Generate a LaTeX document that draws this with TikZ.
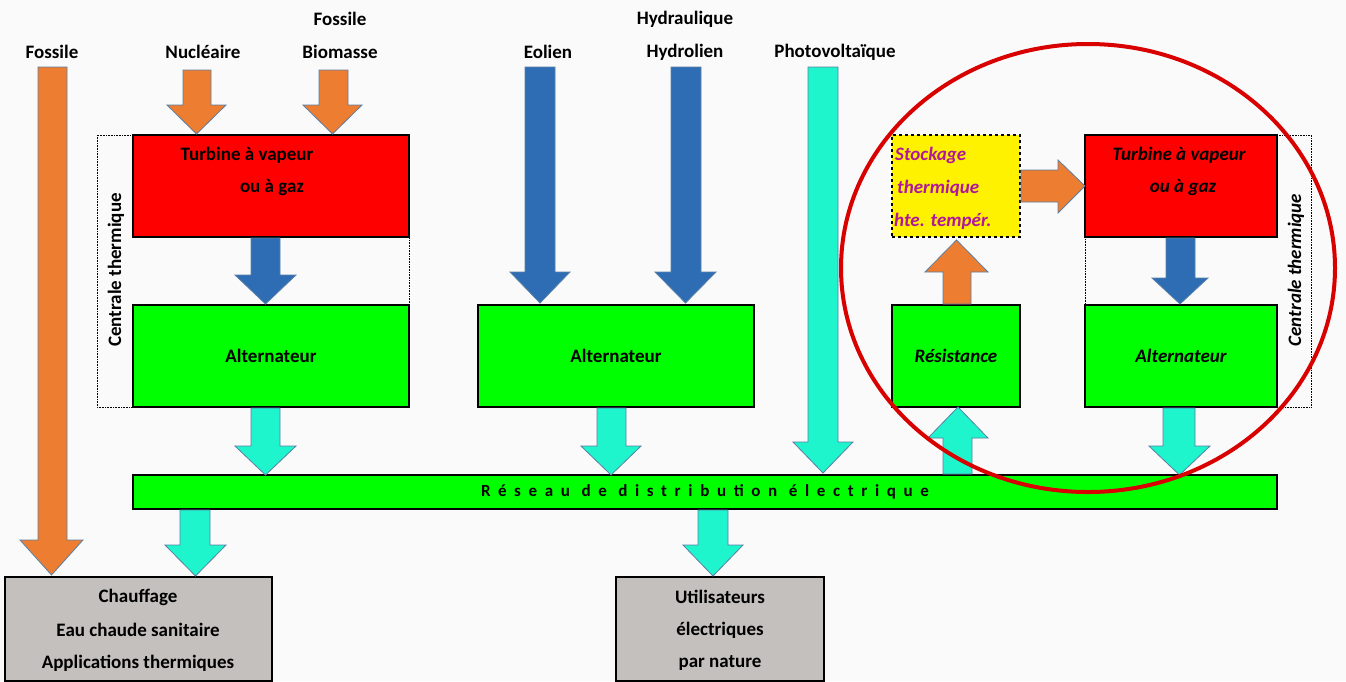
\documentclass[tikz,border=0pt]{standalone}
\usepackage{fontspec}
\setmainfont{Carlito}
\definecolor{bg}{HTML}{FAFAFA}
\definecolor{org}{HTML}{ED7D31}
\definecolor{blu}{HTML}{2E6DB4}
\definecolor{cya}{HTML}{1FF5CC}
\definecolor{edg}{HTML}{5A7FA6}
\definecolor{gry}{HTML}{C3C0BD}
\definecolor{mag}{HTML}{B0179C}
\newcommand{\blk}[8]{\fill[#8,draw=edg,line width=0.8pt] (#1,#5)--(#2,#5)--(#2,#6)--(#4,#6)--({(#3+#4)/2},#7)--(#3,#6)--(#1,#6)--cycle;}
\begin{document}
\begin{tikzpicture}[x=1pt,y=-1pt,font=\bfseries\fontsize{19}{22}\selectfont,
 box/.style={draw=black,line width=2pt,inner sep=0pt,align=center},
 lbl/.style={inner sep=0pt,anchor=center}]
\fill[bg] (0,0) rectangle (1346,681);
\useasboundingbox (0,0) rectangle (1346,681);
% dotted frames
\draw[densely dotted,line width=0.6pt] (97,135) rectangle (409,407);
\draw[densely dotted,line width=0.6pt] (1085,135) rectangle (1311,407);
% labels
\node[lbl] (lf) at (52,52) {Fossile};
\node[lbl] (ln) at (203,52) {Nucléaire};
\node[lbl] (lf2) at (340,19) {Fossile};
\node[lbl] (lb) at (340,52) {Biomasse};
\node[lbl] (le) at (548,52) {Eolien};
\node[lbl] (lh1) at (685,19) {Hydraulique};
\node[lbl] (lh2) at (685,52) {Hydrolien};
\node[lbl] (lp) at (835,52) {Photovoltaïque};
% boxes
\node[box,fill=red,minimum width=276,minimum height=102] (t1) at (271,186) {};
\node[lbl] at (247,155) {Turbine à vapeur};
\node[lbl] at (272,188) {ou à gaz};
\node[box,fill=green,minimum width=276,minimum height=102] (a1) at (271,356) {Alternateur};
\node[box,fill=green,minimum width=276,minimum height=102] (a2) at (616,356) {Alternateur};
\node[box,fill=yellow,dashed,line width=1.4pt,minimum width=128,minimum height=102] (st) at (956,186) {};
\node[lbl,anchor=west,text=mag,font=\bfseries\itshape\fontsize{19}{22}\selectfont] at (895,155) {Stockage};
\node[lbl,anchor=west,text=mag,font=\bfseries\itshape\fontsize{19}{22}\selectfont] at (897,188) {thermique};
\node[lbl,anchor=west,text=mag,font=\bfseries\itshape\fontsize{19}{22}\selectfont] at (894,221) {hte. tempér.};
\node[box,fill=red,minimum width=192,minimum height=102,font=\bfseries\itshape\fontsize{19}{22}\selectfont] (t2) at (1181,186) {};
\node[lbl,font=\bfseries\itshape\fontsize{19}{22}\selectfont] at (1179,155) {Turbine à vapeur};
\node[lbl,font=\bfseries\itshape\fontsize{19}{22}\selectfont] at (1183,188) {ou à gaz};
\node[box,fill=green,minimum width=128,minimum height=102,font=\bfseries\itshape\fontsize{19}{22}\selectfont] (rs) at (956,356) {Résistance};
\node[box,fill=green,minimum width=192,minimum height=102,font=\bfseries\itshape\fontsize{19}{22}\selectfont] (a3) at (1181,356) {Alternateur};
\node[box,fill=green,line width=1.4pt,minimum width=1144,minimum height=34,font=\bfseries\fontsize{17}{20}\selectfont\addfontfeature{LetterSpace=45}] (rz) at (705,492) {Réseau de distribution électrique};
\node[box,fill=gry,line width=1.4pt,minimum width=267,minimum height=104] (ch) at (138.5,629) {};
\node[lbl] at (138,597) {Chauffage};
\node[lbl] at (138,630) {Eau chaude sanitaire};
\node[lbl] at (138,663) {Applications thermiques};
\node[box,fill=gry,line width=1.4pt,minimum width=208,minimum height=104] (ut) at (720,629) {};
\node[lbl] at (720,597) {Utilisateurs};
\node[lbl] at (720,630) {électriques};
\node[lbl] at (720,663) {par nature};
\node[lbl,rotate=90] at (116,270) {Centrale thermique};
\node[lbl,rotate=90,font=\bfseries\itshape\fontsize{19}{22}\selectfont] at (1296,270) {Centrale thermique};
% block arrows
\blk{38}{67}{20}{83}{67}{540}{575}{org}
\blk{183}{211}{167}{226}{70}{105}{134}{org}
\blk{319}{348}{303}{362}{70}{105}{134}{org}
\blk{251}{280}{235}{296}{238}{275}{304}{blu}
\blk{251}{280}{235}{296}{408}{446}{475}{cya}
\blk{525}{555}{510}{570}{67}{272}{303}{blu}
\blk{671}{701}{655}{716}{67}{272}{303}{blu}
\blk{597}{626}{581}{641}{408}{446}{475}{cya}
\blk{808}{838}{793}{853}{67}{442}{473}{cya}
\blk{943}{971}{925}{988}{304}{272}{240}{org}
\blk{1166}{1195}{1152}{1208}{238}{278}{304}{blu}
\blk{943}{972}{928}{988}{474}{438}{407}{cya}
\blk{1163}{1195}{1149}{1210}{408}{446}{475}{cya}
\blk{180}{210}{165}{226}{510}{545}{576}{cya}
\blk{698}{728}{683}{743}{510}{545}{576}{cya}
\fill[org,draw=edg,line width=0.8pt] (1021,170)--(1058,170)--(1058,160)--(1085,186)--(1058,213)--(1058,202)--(1021,202)--cycle;
% ellipse
\draw[red!85!black,line width=4pt] (1088,268) ellipse [x radius=247,y radius=224];
\end{tikzpicture}
\end{document}
